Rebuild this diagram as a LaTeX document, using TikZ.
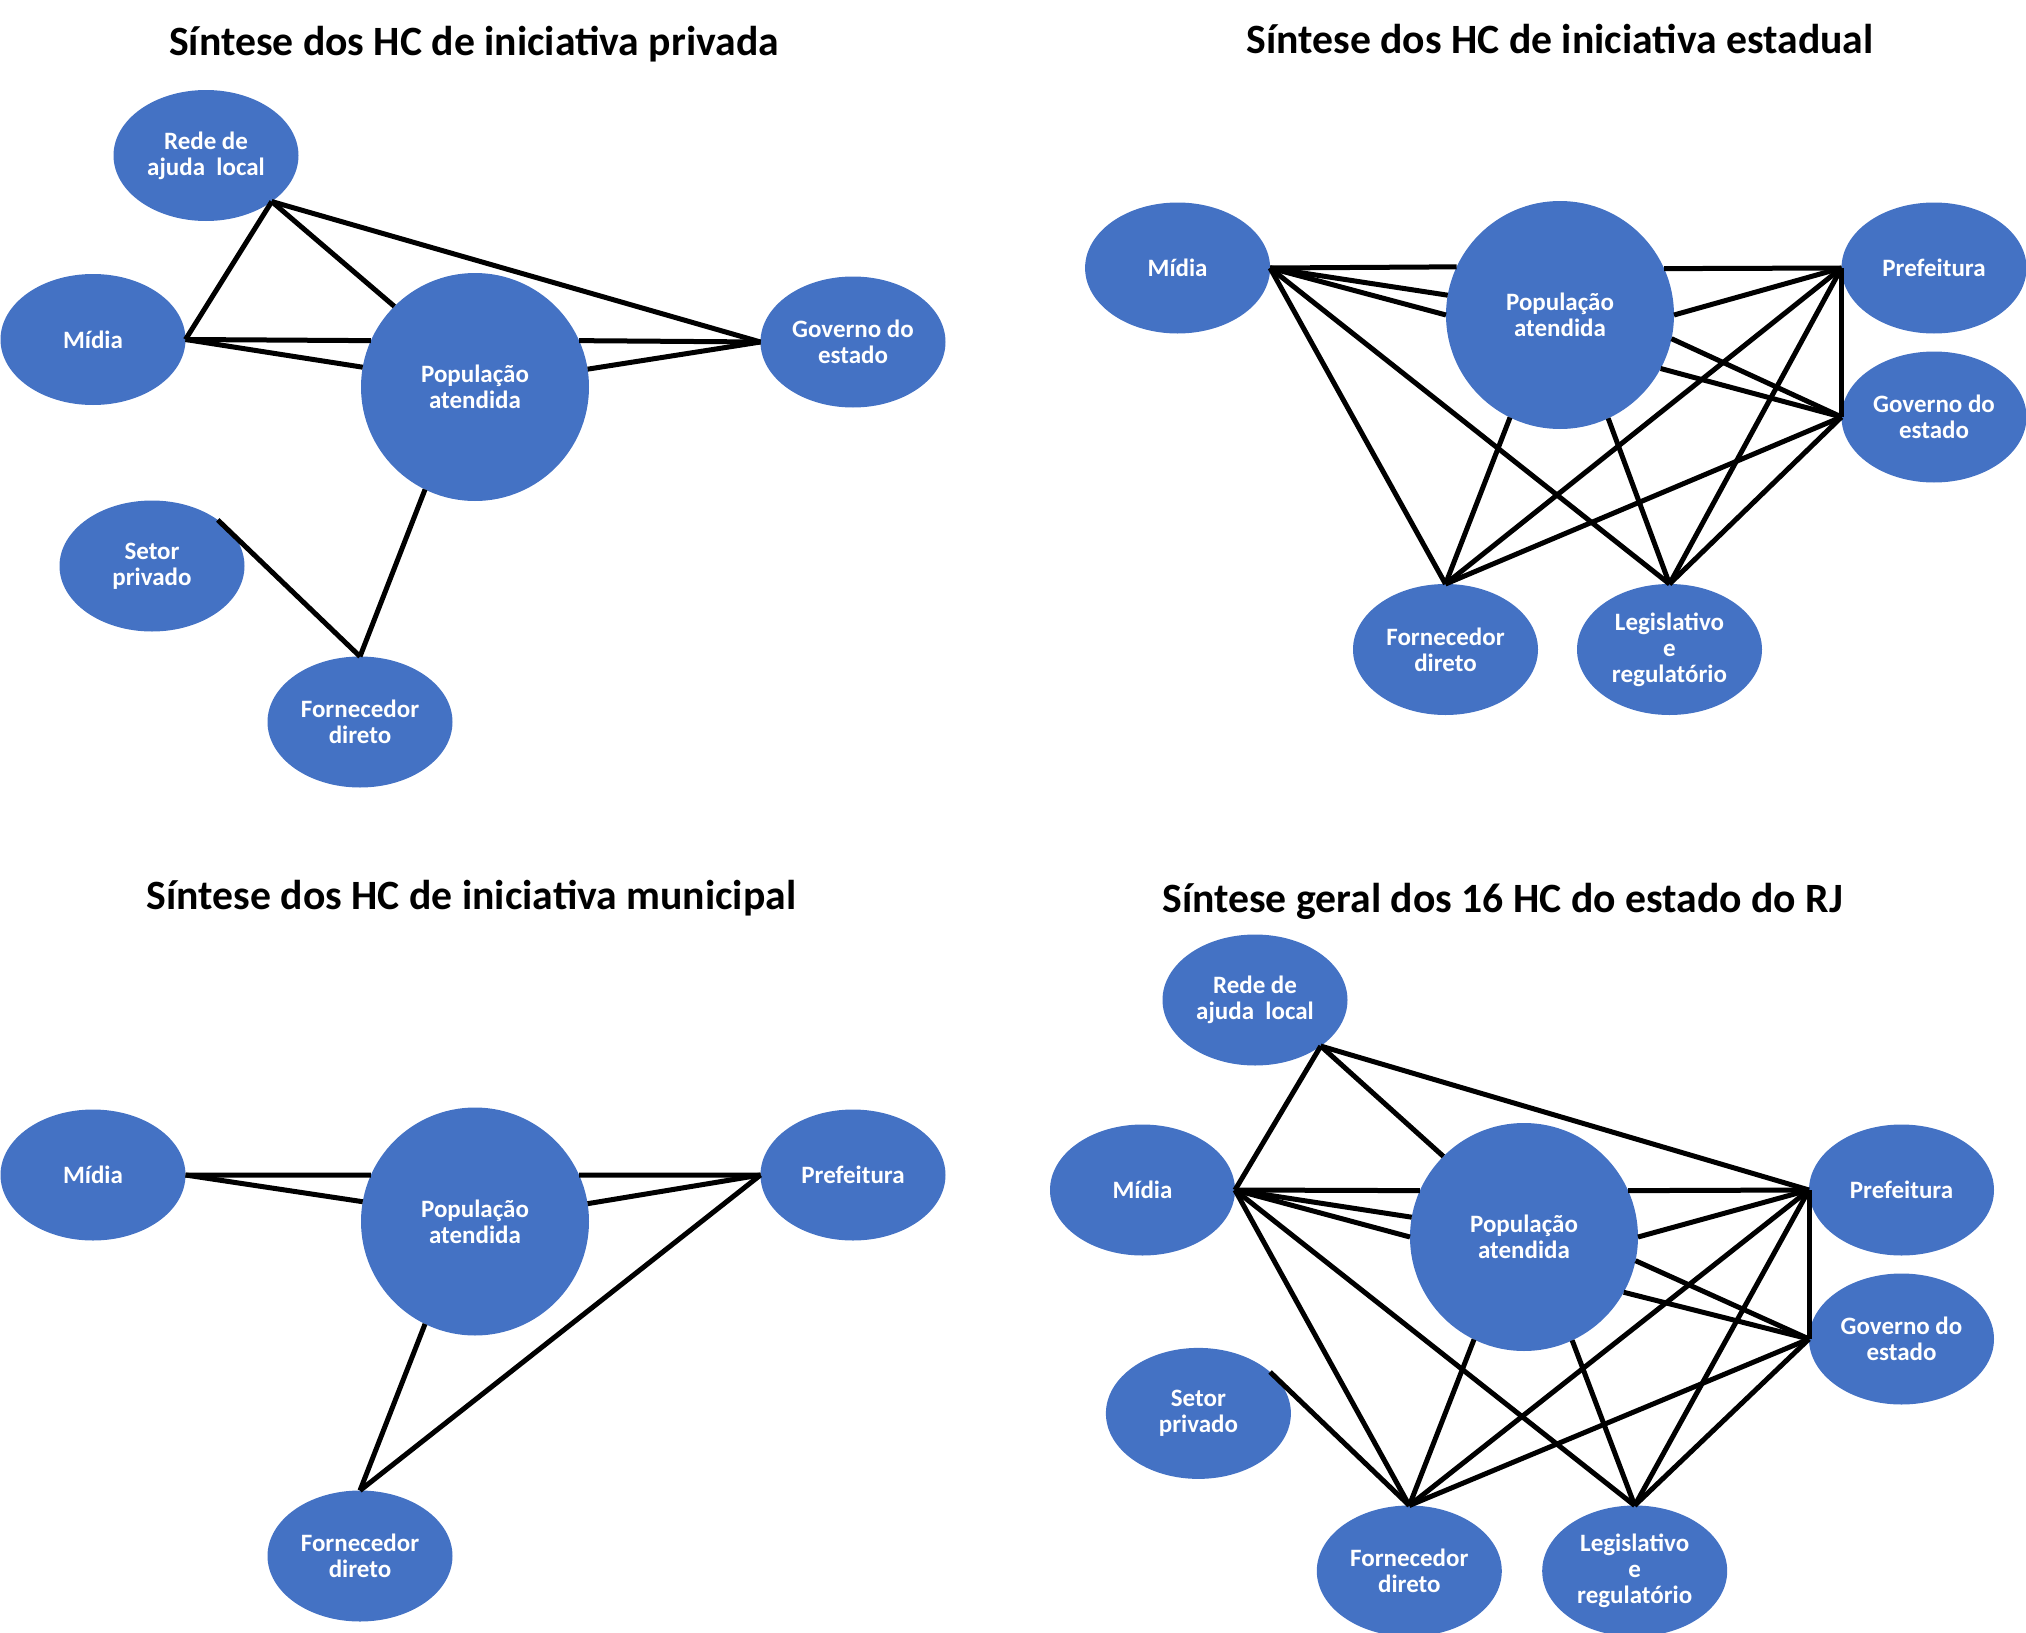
\documentclass[tikz,border=0pt]{standalone}
\usepackage{fontspec}
\setmainfont{Carlito}
\usetikzlibrary{shapes.geometric}
\definecolor{nodeblue}{HTML}{4472C4}
\begin{document}
\begin{tikzpicture}[x=0.5pt,y=-0.5pt,
  ell/.style={ellipse, fill=nodeblue, minimum width=92.5pt, minimum height=65.5pt,
    inner sep=0pt, outer sep=0pt, text=white, align=center,
    font=\bfseries\fontsize{12.5}{13}\selectfont},
  popc/.style={circle, fill=nodeblue, minimum size=114pt, inner sep=0pt, outer sep=0pt,
    text=white, align=center, font=\bfseries\fontsize{12.5}{13}\selectfont},
  ttl/.style={anchor=base, inner sep=0pt, font=\bfseries\fontsize{20.85}{24}\selectfont},
  con/.style={line width=2.5pt, black}]
\useasboundingbox (0,0) rectangle (2026,1633);

% ---------- Top left ----------
\node[ttl] (ta) at (474,55) {Síntese dos HC de iniciativa privada};
\node[ell] (a-rede) at (206,155.5) {Rede de\\ajuda\ \ local};
\node[ell] (a-midia) at (93,339.5) {Mídia};
\node[popc] (a-pop) at (475,387) {População\\atendida};
\node[ell] (a-gov) at (853,342) {Governo do\\estado};
\node[ell] (a-setor) at (152,566) {Setor\\privado};
\node[ell] (a-forn) at (360,722) {Fornecedor\\direto};

\draw[con] (a-rede.-35) -- (a-midia.east);
\draw[con] (a-rede.-35) -- (a-pop.135);
\draw[con] (a-rede.-35) -- (a-gov.west);
\draw[con] (a-midia.east) -- (a-pop.156);
\draw[con] (a-midia.east) -- (a-pop.170);
\draw[con] (a-gov.west) -- (a-pop.24);
\draw[con] (a-gov.west) -- (a-pop.9);
\draw[con] (a-setor.35) -- (a-forn.north);
\draw[con] (a-forn.north) -- (a-pop.-116);

% ---------- Top right ----------
\node[ttl] (tb) at (1560,54) {Síntese dos HC de iniciativa estadual};
\node[ell] (b-midia) at (1177.6,268) {Mídia};
\node[popc] (b-pop) at (1560,315) {População\\atendida};
\node[ell] (b-pref) at (1934,268) {Prefeitura};
\node[ell] (b-gov) at (1934,417) {Governo do\\estado};
\node[ell] (b-forn) at (1445.5,649.5) {Fornecedor\\direto};
\node[ell] (b-leg) at (1669.5,649.5) {Legislativo\\e\\regulatório};

\draw[con] (b-midia.east) -- (b-pop.155.5);
\draw[con] (b-midia.east) -- (b-pop.170);
\draw[con] (b-midia.east) -- (b-pop.180);
\draw[con] (b-midia.east) -- (b-forn.north);
\draw[con] (b-midia.east) -- (b-leg.north);
\draw[con] (b-pref.west) -- (b-pop.24);
\draw[con] (b-pref.west) -- (b-pop.0);
\draw[con] (b-pref.west) -- (b-forn.north);
\draw[con] (b-pref.west) -- (b-leg.north);
\draw[con] (b-pref.west) -- (b-gov.west);
\draw[con] (b-gov.west) -- (b-pop.-12);
\draw[con] (b-gov.west) -- (b-pop.-28.5);
\draw[con] (b-gov.west) -- (b-forn.north);
\draw[con] (b-gov.west) -- (b-leg.north);
\draw[con] (b-pop.-116) -- (b-forn.north);
\draw[con] (b-pop.-65.5) -- (b-leg.north);

% ---------- Bottom left ----------
\node[ttl] (tc) at (471.5,909) {Síntese dos HC de iniciativa municipal};
\node[ell] (c-midia) at (93,1175) {Mídia};
\node[popc] (c-pop) at (475,1221.5) {População\\atendida};
\node[ell] (c-pref) at (853,1175) {Prefeitura};
\node[ell] (c-forn) at (360,1556) {Fornecedor\\direto};

\draw[con] (c-midia.east) -- (c-pop.156);
\draw[con] (c-midia.east) -- (c-pop.170);
\draw[con] (c-pref.west) -- (c-pop.24);
\draw[con] (c-pref.west) -- (c-pop.9);
\draw[con] (c-pref.west) -- (c-forn.north);
\draw[con] (c-pop.-116) -- (c-forn.north);

% ---------- Bottom right ----------
\node[ttl] (td) at (1502.6,912) {Síntese geral dos 16 HC do estado do RJ};
\node[ell] (d-rede) at (1255,1000) {Rede de\\ajuda\ \ local};
\node[ell] (d-midia) at (1142.5,1190) {Mídia};
\node[popc] (d-pop) at (1524,1237) {População\\atendida};
\node[ell] (d-pref) at (1901.5,1190) {Prefeitura};
\node[ell] (d-gov) at (1901.5,1339) {Governo do\\estado};
\node[ell] (d-setor) at (1198.4,1413.4) {Setor\\privado};
\node[ell] (d-forn) at (1409.3,1571) {Fornecedor\\direto};
\node[ell] (d-leg) at (1634.7,1571) {Legislativo\\e\\regulatório};

\draw[con] (d-rede.-35) -- (d-midia.east);
\draw[con] (d-rede.-35) -- (d-pop.135);
\draw[con] (d-rede.-35) -- (d-pref.west);
\draw[con] (d-midia.east) -- (d-pop.156);
\draw[con] (d-midia.east) -- (d-pop.170);
\draw[con] (d-midia.east) -- (d-pop.180);
\draw[con] (d-midia.east) -- (d-forn.north);
\draw[con] (d-midia.east) -- (d-leg.north);
\draw[con] (d-pref.west) -- (d-pop.24);
\draw[con] (d-pref.west) -- (d-pop.0);
\draw[con] (d-pref.west) -- (d-gov.west);
\draw[con] (d-pref.west) -- (d-forn.north);
\draw[con] (d-pref.west) -- (d-leg.north);
\draw[con] (d-gov.west) -- (d-pop.-12);
\draw[con] (d-gov.west) -- (d-pop.-29);
\draw[con] (d-gov.west) -- (d-forn.north);
\draw[con] (d-gov.west) -- (d-leg.north);
\draw[con] (d-pop.-116) -- (d-forn.north);
\draw[con] (d-pop.-65.5) -- (d-leg.north);
\draw[con] (d-setor.30) -- (d-forn.north);
\end{tikzpicture}
\end{document}
